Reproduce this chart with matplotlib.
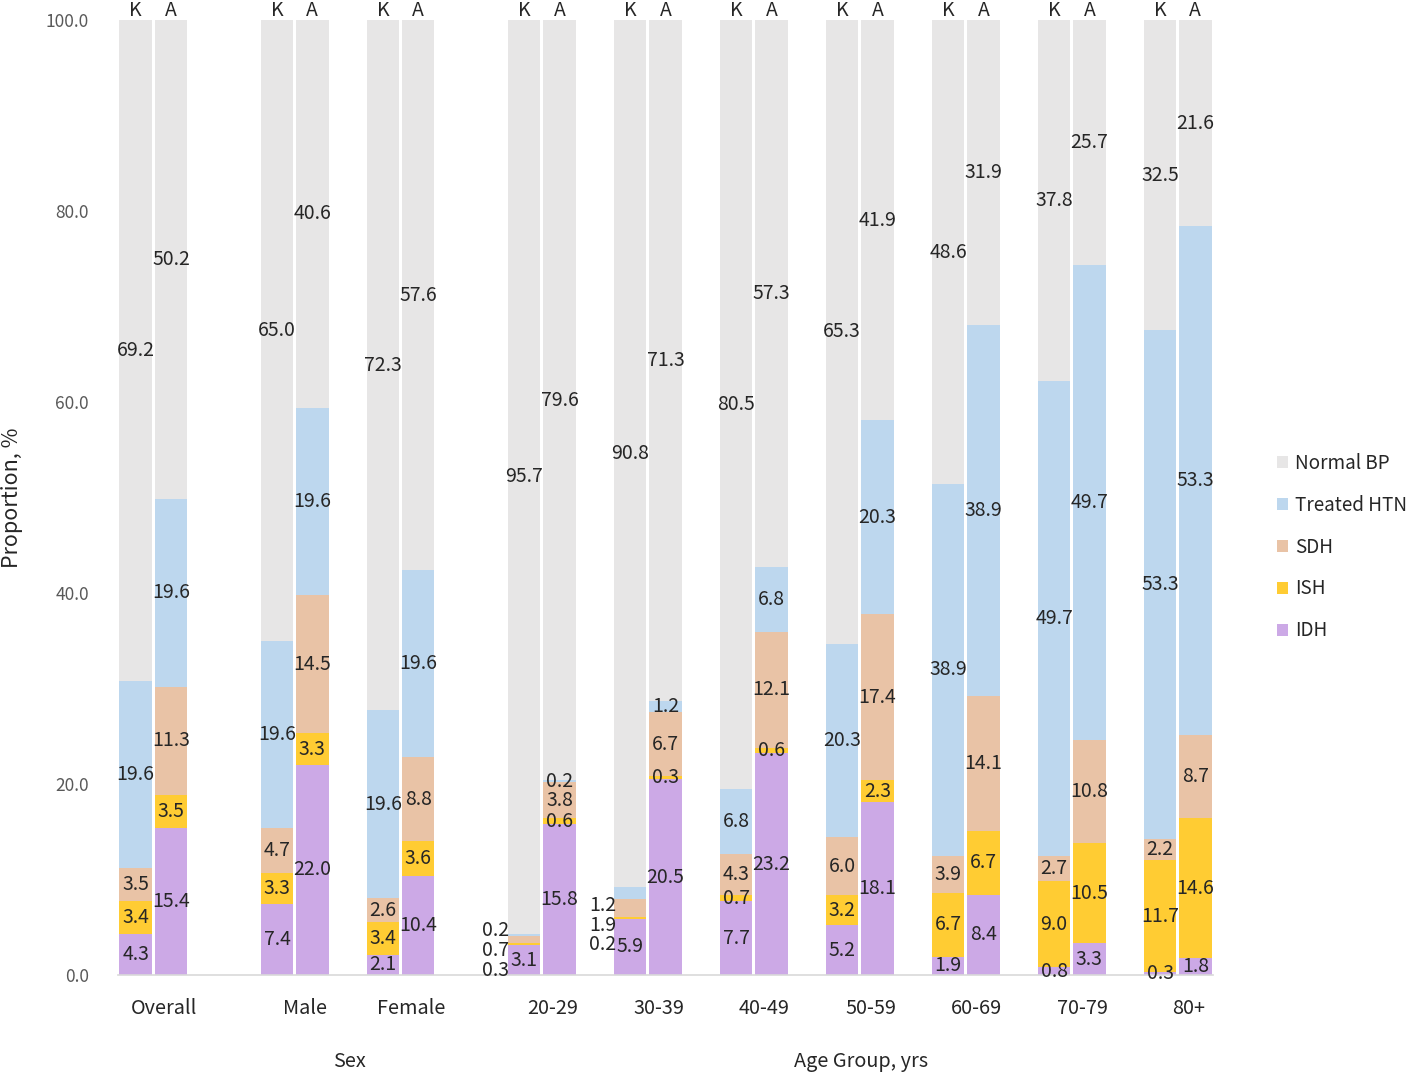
import matplotlib
matplotlib.use('Agg')
import matplotlib.pyplot as plt
from matplotlib.patches import Patch

plt.rcParams['font.family'] = ['Noto Sans CJK KR', 'DejaVu Sans']

groups = ['Overall', 'Male', 'Female', '20-29', '30-39', '40-49', '50-59', '60-69', '70-79', '80+']
sections = ['Overall', 'Sex', 'Sex', 'Age', 'Age', 'Age', 'Age', 'Age', 'Age', 'Age']
section_titles = {'Sex': 'Sex', 'Age': 'Age Group, yrs'}
countries = ['K', 'A']
series = ['IDH', 'ISH', 'SDH', 'Treated HTN', 'Normal BP']

K_IDH = [4.3, 7.4, 2.1, 3.1, 5.9, 7.7, 5.2, 1.9, 0.8, 0.3]
K_ISH = [3.4, 3.3, 3.4, 0.3, 0.2, 0.7, 3.2, 6.7, 9.0, 11.7]
K_SDH = [3.5, 4.7, 2.6, 0.7, 1.9, 4.3, 6.0, 3.9, 2.7, 2.2]
K_TRT = [19.6, 19.6, 19.6, 0.2, 1.2, 6.8, 20.3, 38.9, 49.7, 53.3]
K_NRM = [69.2, 65.0, 72.3, 95.7, 90.8, 80.5, 65.3, 48.6, 37.8, 32.5]

A_IDH = [15.4, 22.0, 10.4, 15.8, 20.5, 23.2, 18.1, 8.4, 3.3, 1.8]
A_ISH = [3.5, 3.3, 3.6, 0.6, 0.3, 0.6, 2.3, 6.7, 10.5, 14.6]
A_SDH = [11.3, 14.5, 8.8, 3.8, 6.7, 12.1, 17.4, 14.1, 10.8, 8.7]
A_TRT = [19.6, 19.6, 19.6, 0.2, 1.2, 6.8, 20.3, 38.9, 49.7, 53.3]
A_NRM = [50.2, 40.6, 57.6, 79.6, 71.3, 57.3, 41.9, 31.9, 25.7, 21.6]

data = {
    'K': [K_IDH, K_ISH, K_SDH, K_TRT, K_NRM],
    'A': [A_IDH, A_ISH, A_SDH, A_TRT, A_NRM],
}

colors = {
    'IDH': '#CCA9E6',
    'ISH': '#FFCC33',
    'SDH': '#E9C3A6',
    'Treated HTN': '#BDD7EE',
    'Normal BP': '#E7E6E6',
}

# label placement overrides for crowded small segments (group, country, series) -> (dx, y)
label_override = {
    ('20-29', 'K', 'ISH'): (-0.8, 0.5),
    ('20-29', 'K', 'SDH'): (-0.8, 2.6),
    ('20-29', 'K', 'Treated HTN'): (-0.8, 4.7),
    ('30-39', 'K', 'ISH'): (-0.78, 3.2),
    ('30-39', 'K', 'SDH'): (-0.78, 5.2),
    ('30-39', 'K', 'Treated HTN'): (-0.78, 7.3),
}

# compute category positions (Excel-like layout with blank categories)
positions = []
p = 0
prev = None
for g, s in zip(groups, sections):
    if prev is not None:
        p += 3
        if s != prev:
            p += 1
    positions.append(p)
    prev = s

W, H = 1418, 1078
fig = plt.figure(figsize=(W / 100, H / 100), dpi=100)
ax = fig.add_axes([118 / W, 103 / H, 1095 / W, 955 / H])

label_color = '#262626'
bw = 0.92
for gi, g in enumerate(groups):
    for ci, c in enumerate(countries):
        x = positions[gi] + ci
        bottom = 0.0
        for si, sname in enumerate(series):
            v = data[c][si][gi]
            ax.bar(x, v, bottom=bottom, width=bw, color=colors[sname], linewidth=0)
            key = (g, c, sname)
            if key in label_override:
                dx, ly = label_override[key]
                lx = x + dx
            else:
                lx, ly = x, bottom + v / 2
            ax.text(lx, ly, f'{v:.1f}', ha='center', va='center', fontsize=14,
                    color=label_color, clip_on=False)
            bottom += v
        ax.text(x, 101.0, c, ha='center', va='center', fontsize=14, color=label_color, clip_on=False)

ax.set_xlim(-0.5, positions[-1] + 1.5)
ax.set_ylim(0, 100)
for sp in ['top', 'right', 'left']:
    ax.spines[sp].set_visible(False)
ax.spines['bottom'].set_color('#D9D9D9')
ax.spines['bottom'].set_linewidth(1.2)
ax.set_xticks([])
ax.set_yticks([0, 20, 40, 60, 80, 100])
ax.set_yticklabels([f'{t:.1f}' for t in [0, 20, 40, 60, 80, 100]])
ax.tick_params(axis='y', length=0, pad=21, labelsize=12.5, labelcolor='#595959')

xt = ax.get_xaxis_transform()
for gi, g in enumerate(groups):
    ax.text(positions[gi] + 0.8, -0.0346, g, transform=xt, ha='center', va='center',
            fontsize=14.3, color=label_color)

for key, title in section_titles.items():
    idx = [i for i, s in enumerate(sections) if s == key]
    cx = (positions[idx[0]] + positions[idx[-1]]) / 2 + 0.55
    ax.text(cx, -0.091, title, transform=xt, ha='center', va='center', fontsize=14.3,
            color=label_color)

fig.text(12 / W, 1 - 498 / H, 'Proportion, %', rotation=90, ha='center', va='center',
         fontsize=15.5, color=label_color)

handles = [Patch(facecolor=colors[s], edgecolor='none', label=s) for s in reversed(series)]
fig.legend(handles=handles, loc='upper left', bbox_to_anchor=(1262 / W, 1 - 438 / H),
           frameon=False, fontsize=13.6, handlelength=0.6, handleheight=0.6,
           handletextpad=0.35, labelspacing=1.1, borderpad=0.3, labelcolor=label_color)

fig.savefig('out.png', dpi=100)
